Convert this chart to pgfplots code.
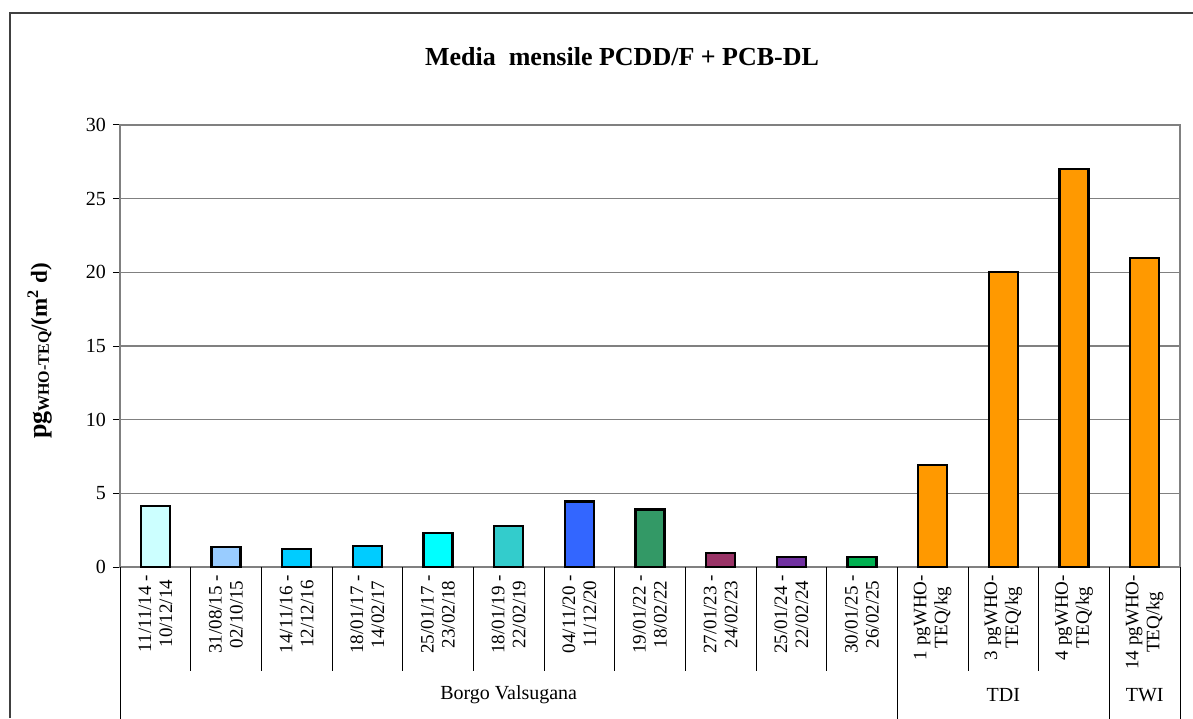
\documentclass[border=0pt]{standalone}
\usepackage{fontspec}
\setmainfont{Liberation Serif}
\usepackage{pgfplots}
\pgfplotsset{compat=1.18}

\definecolor{c1}{HTML}{CCFFFF}
\definecolor{c2}{HTML}{99CCFF}
\definecolor{c3}{HTML}{00CCFF}
\definecolor{c4}{HTML}{00FFFF}
\definecolor{c5}{HTML}{33CCCC}
\definecolor{c6}{HTML}{3366FF}
\definecolor{c7}{HTML}{339966}
\definecolor{c8}{HTML}{993366}
\definecolor{c9}{HTML}{7030A0}
\definecolor{c10}{HTML}{00B050}
\definecolor{corange}{HTML}{FF9900}
\definecolor{gridgray}{HTML}{808080}

\pgfplotsset{mybar/.style={ybar, fill=#1, draw=black, line width=1.1pt, bar shift=0pt, bar width=0.41}}

\begin{document}
\begin{tikzpicture}[x=1pt,y=1pt]
\useasboundingbox (0,0) rectangle (596.5,359);
\draw[black!75, line width=0.6pt] (5,0) -- (5,352.5) -- (596.5,352.5);

\begin{axis}[
    at={(60pt,75.5pt)}, anchor=south west,
    scale only axis, width=530pt, height=221pt,
    ymin=0, ymax=30, ytick={0,5,...,30},
    xmin=-0.5, xmax=14.5,
    xtick={0,...,14},
    xticklabels={{11/11/14 -\\10/12/14},{31/08/15 -\\02/10/15},{14/11/16 -\\12/12/16},
        {18/01/17 -\\14/02/17},{25/01/17 -\\23/02/18},{18/01/19 -\\22/02/19},
        {04/11/20 -\\11/12/20},{19/01/22 -\\18/02/22},{27/01/23 -\\24/02/23},
        {25/01/24 -\\22/02/24},{30/01/25 -\\26/02/25},{1 pgWHO-\\TEQ/kg},
        {3 pgWHO-\\TEQ/kg},{4 pgWHO-\\TEQ/kg},{14 pgWHO-\\TEQ/kg}},
    xticklabel style={rotate=90, anchor=east, align=center,
        font=\fontsize{9.5}{10.5}\selectfont},
    xticklabel shift=-3pt,
    xtick style={draw=none},
    tick align=outside, major tick length=3.5pt,
    ytick pos=left,
    ytick style={draw=black, line width=0.5pt},
    yticklabel style={font=\fontsize{10}{12}\selectfont},
    /pgf/number format/assume math mode=true,
    ymajorgrids, grid style={gridgray, line width=0.6pt},
    axis line style={gridgray, line width=0.7pt},
    clip=false,
]
\addplot[mybar=c1] coordinates {(0,4.15)};
\addplot[mybar=c2] coordinates {(1,1.35)};
\addplot[mybar=c3] coordinates {(2,1.2)};
\addplot[mybar=c3] coordinates {(3,1.45)};
\addplot[mybar=c4] coordinates {(4,2.3)};
\addplot[mybar=c5] coordinates {(5,2.8)};
\addplot[mybar=c6] coordinates {(6,4.45)};
\addplot[mybar=c7] coordinates {(7,3.9)};
\addplot[mybar=c8] coordinates {(8,0.95)};
\addplot[mybar=c9] coordinates {(9,0.7)};
\addplot[mybar=c10] coordinates {(10,0.7)};
\addplot[mybar=corange] coordinates {(11,6.9)};
\addplot[mybar=corange] coordinates {(12,20)};
\addplot[mybar=corange] coordinates {(13,27)};
\addplot[mybar=corange] coordinates {(14,21)};

% category separators
\pgfplotsinvokeforeach{0.5,1.5,...,9.5,11.5,12.5}{
  \draw[black, line width=0.5pt] (axis cs:#1,0) -- ++(0pt,-52pt);
}
% group separators
\pgfplotsinvokeforeach{-0.5,10.5,13.5,14.5}{
  \draw[black, line width=0.5pt] (axis cs:#1,0) -- ++(0pt,-76pt);
}
\node[font=\fontsize{10}{12}\selectfont] at (axis cs:5,0) [yshift=-64pt] {Borgo Valsugana};
\node[font=\fontsize{10}{12}\selectfont] at (axis cs:12,0) [yshift=-64pt] {TDI};
\node[font=\fontsize{10}{12}\selectfont] at (axis cs:14,0) [yshift=-64pt] {TWI};
\end{axis}

\node[font=\fontsize{13}{15}\selectfont\bfseries] at (311,330.5) {Media\ \ mensile PCDD/F + PCB-DL};
\node[rotate=90, font=\bfseries] at (20,183.5)
  {{\fontsize{13}{16}\selectfont pg}\raisebox{-1pt}{\fontsize{8}{10}\selectfont WHO-TEQ}{\fontsize{11.5}{14}\selectfont/(m\textsuperscript{2} d)}};
\end{tikzpicture}
\end{document}
